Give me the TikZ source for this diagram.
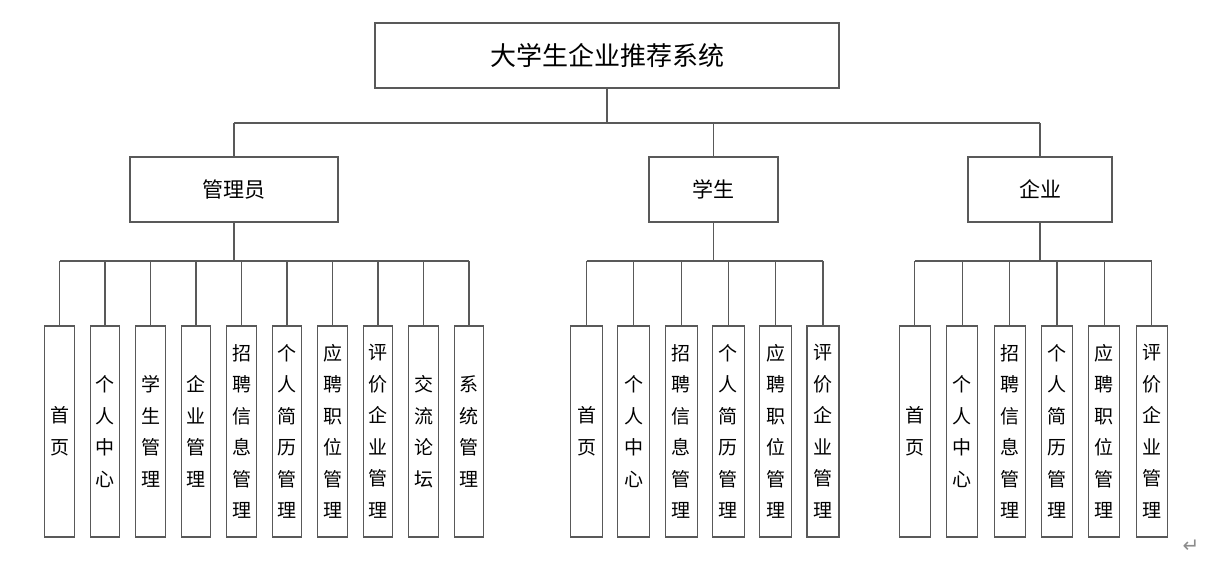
\documentclass[tikz,border=0pt]{standalone}
\usepackage{fontspec}
\newfontfamily\cjk{Noto Sans CJK SC}
\newfontfamily\symfont{DejaVu Sans}
\usetikzlibrary{positioning}

\begin{document}
\begin{tikzpicture}[
  x=1pt, y=-1pt,
  box/.style={draw=black!65, line width=1.1pt, fill=white, inner sep=0pt},
  link/.style={draw=black!65, line width=1.1pt},
  rolebox/.style={box, minimum height=65pt, font=\cjk\fontsize{21}{24}\selectfont},
  leaf/.style={box, minimum height=211pt, align=center, font=\cjk\fontsize{19}{31.5}\selectfont},
  ]

  % Parameters
  \def\Ybar{123}
  \def\Yleafbar{261}
  \def\Yleaf{431.5}

  \useasboundingbox (0,0) rectangle (1220,567);

  % System
  \node[box, minimum width=464pt, minimum height=65pt, font=\cjk\fontsize{26}{30}\selectfont]
    (sys) at (607,55.5) {大学生企业推荐系统};

  % Roles
  \node[rolebox, minimum width=208pt] (adm) at (234,189.5) {管理员};
  \node[rolebox, minimum width=129pt] (stu) at (713.5,189.5) {学生};
  \node[rolebox, minimum width=144pt] (ent) at (1040,189.5) {企业};

  % Admin modules
  \foreach \i/\txt in {1/首\\页, 2/个\\人\\中\\心, 3/学\\生\\管\\理, 4/企\\业\\管\\理,
      5/招\\聘\\信\\息\\管\\理, 6/个\\人\\简\\历\\管\\理, 7/应\\聘\\职\\位\\管\\理,
      8/评\\价\\企\\业\\管\\理, 9/交\\流\\论\\坛, 10/系\\统\\管\\理} {
    \node[leaf, minimum width=29.5pt] (a\i) at ({59.5+(\i-1)*45.5},\Yleaf) {\txt};
  }

  % Student modules
  \foreach \i/\txt in {1/首\\页, 2/个\\人\\中\\心, 3/招\\聘\\信\\息\\管\\理,
      4/个\\人\\简\\历\\管\\理, 5/应\\聘\\职\\位\\管\\理, 6/评\\价\\企\\业\\管\\理} {
    \node[leaf, minimum width=32pt] (s\i) at ({586.5+(\i-1)*47.3},\Yleaf) {\txt};
  }

  % Enterprise modules
  \foreach \i/\txt in {1/首\\页, 2/个\\人\\中\\心, 3/招\\聘\\信\\息\\管\\理,
      4/个\\人\\简\\历\\管\\理, 5/应\\聘\\职\\位\\管\\理, 6/评\\价\\企\\业\\管\\理} {
    \node[leaf, minimum width=31pt] (e\i) at ({914.8+(\i-1)*47.4},\Yleaf) {\txt};
  }

  % Top links
  \coordinate (busT) at (0,\Ybar);
  \draw[link] (sys.south) -- (sys.south |- busT);
  \draw[link] (adm.north |- busT) -- (ent.north |- busT);
  \foreach \r in {adm, stu, ent}
    \draw[link] (\r.north) -- (\r.north |- busT);

  % Module links
  \coordinate (busL) at (0,\Yleafbar);
  \draw[link] (adm.south) -- (adm.south |- busL);
  \draw[link] (a1.north |- busL) -- (a10.north |- busL);
  \foreach \i in {1,...,10}
    \draw[link] (a\i.north) -- (a\i.north |- busL);

  \draw[link] (stu.south) -- (stu.south |- busL);
  \draw[link] (s1.north |- busL) -- (s6.north |- busL);
  \draw[link] (ent.south) -- (ent.south |- busL);
  \draw[link] (e1.north |- busL) -- (e6.north |- busL);
  \foreach \i in {1,...,6} {
    \draw[link] (s\i.north) -- (s\i.north |- busL);
    \draw[link] (e\i.north) -- (e\i.north |- busL);
  }

  % Paragraph mark
  \node[text=black!45, font=\symfont\fontsize{20}{20}\selectfont] (ret) at (1191,546) {↵};

\end{tikzpicture}
\end{document}
